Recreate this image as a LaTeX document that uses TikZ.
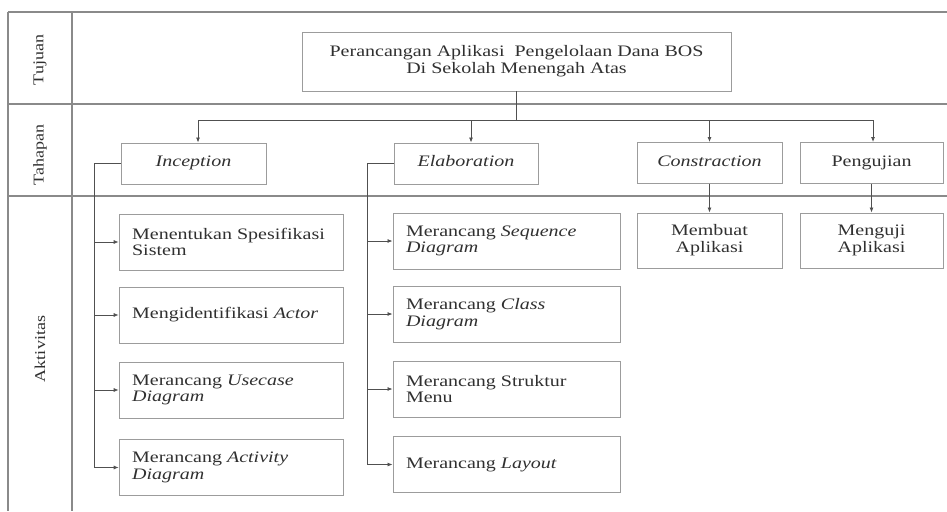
\documentclass[tikz,border=0pt]{standalone}
\usepackage{fontspec}
\setmainfont{Liberation Serif}
\usetikzlibrary{arrows.meta,calc}
\definecolor{framec}{HTML}{8A8A8A}
\definecolor{boxc}{HTML}{9C9C9C}
\definecolor{linec}{HTML}{505050}
\definecolor{txtc}{HTML}{303030}
\newcommand{\sxc}[1]{\scalebox{1.25}[1]{\begin{tabular}{@{}c@{}}#1\end{tabular}}}
\newcommand{\actxt}[2]{\scalebox{1.25}[1]{\parbox[c]{#1}{\raggedright\parindent=0pt\leftskip=0pt #2}}}
\begin{document}
\begin{tikzpicture}[x=1pt,y=-1pt,
  font=\fontsize{16}{16.5}\selectfont, text=txtc,
  frameline/.style={draw=framec, line width=1.1pt},
  boxbase/.style={draw=boxc, line width=0.9pt, rectangle, inner sep=0pt},
  stagebox/.style={boxbase, minimum height=41pt},
  actbox/.style={boxbase, minimum height=56pt, inner xsep=13pt},
  sidelabel/.style={rotate=90, font=\fontsize{15}{15}\selectfont},
  conn/.style={draw=linec, line width=0.8pt},
  arr/.style={conn, -{Latex[length=5pt,width=4pt]}}]
\useasboundingbox (0,0) rectangle (947,511);
% frame
\draw[frameline] (8,12) -- (947,12);
\draw[frameline] (8,104) -- (947,104);
\draw[frameline] (8,196) -- (947,196);
\draw[frameline] (8,12) -- (8,511);
\draw[frameline] (72,12) -- (72,511);
\node[sidelabel] (ltuj) at (40,60) {\scalebox{1.2}[1]{Tujuan}};
\node[sidelabel] (ltah) at (40,155) {\scalebox{1.2}[1]{Tahapan}};
\node[sidelabel] (lakt) at (40,349) {\scalebox{1.2}[1]{Aktivitas}};
% top
\node[boxbase, minimum width=429pt, minimum height=59pt] (top) at (516.5,61.5)
  {\sxc{Perancangan Aplikasi\ \ Pengelolaan Dana BOS\\Di Sekolah Menengah Atas}};
% stages
\node[stagebox, minimum width=145pt] (inc) at (193.5,163.5) {\sxc{\textit{Inception}}};
\node[stagebox, minimum width=144pt] (el) at (466,163.5) {\sxc{\textit{Elaboration}}};
\node[stagebox, minimum width=145pt] (con) at (709.5,163) {\sxc{\textit{Constraction}}};
\node[stagebox, minimum width=143pt] (pg) at (871.5,163) {\sxc{Pengujian}};
% activities inception
\node[actbox] (ia1) at (231.5,242) {\actxt{159pt}{Menentukan Spesifikasi\newline Sistem}};
\node[actbox] (ia2) at (231.5,315) {\actxt{159pt}{Mengidentifikasi \textit{Actor}}};
\node[actbox] (ia3) at (231.5,390) {\actxt{159pt}{Merancang \textit{Usecase}\newline \textit{Diagram}}};
\node[actbox] (ia4) at (231.5,467.5) {\actxt{159pt}{Merancang \textit{Activity}\newline \textit{Diagram}}};
% activities elaboration
\node[actbox] (ea1) at (506.5,241) {\actxt{160.8pt}{Merancang \textit{Sequence}\newline \textit{Diagram}}};
\node[actbox] (ea2) at (506.5,314) {\actxt{160.8pt}{Merancang \textit{Class}\newline \textit{Diagram}}};
\node[actbox] (ea3) at (506.5,389) {\actxt{160.8pt}{Merancang Struktur\newline Menu}};
\node[actbox] (ea4) at (506.5,464.5) {\actxt{160.8pt}{Merancang \textit{Layout}}};
% construction / testing
\node[boxbase, minimum width=145pt, minimum height=55pt] (mb) at (709.5,240.5) {\sxc{Membuat\\Aplikasi}};
\node[boxbase, minimum width=143pt, minimum height=55pt] (mg) at (871.5,240.5) {\sxc{Menguji\\Aplikasi}};
% connectors
\coordinate (bus) at (516.5,120);
\coordinate (incA) at ([xshift=4.5pt]inc.north);
\coordinate (elA) at ([xshift=5pt]el.north);
\coordinate (pgA) at ([xshift=1.5pt]pg.north);
\draw[conn] (top.south) -- (bus);
\draw[conn] (bus -| incA) -- (bus -| pgA);
\draw[arr] (bus -| incA) -- (incA);
\draw[arr] (bus -| elA) -- (elA);
\draw[arr] (bus -| con.north) -- (con.north);
\draw[arr] (bus -| pgA) -- (pgA);
\draw[arr] (con.south) -- (mb.north);
\draw[arr] (pg.south) -- (mg.north);
% inception branch
\coordinate (ist) at ($(inc.west)+(-26,0)$);
\draw[arr] (inc.west) -- (ist) |- (ia4.west);
\draw[arr] (ist |- ia1.west) -- (ia1.west);
\draw[arr] (ist |- ia2.west) -- (ia2.west);
\draw[arr] (ist |- ia3.west) -- (ia3.west);
% elaboration branch
\coordinate (est) at ($(el.west)+(-26,0)$);
\draw[arr] (el.west) -- (est) |- (ea4.west);
\draw[arr] (est |- ea1.west) -- (ea1.west);
\draw[arr] (est |- ea2.west) -- (ea2.west);
\draw[arr] (est |- ea3.west) -- (ea3.west);
\end{tikzpicture}
\end{document}
